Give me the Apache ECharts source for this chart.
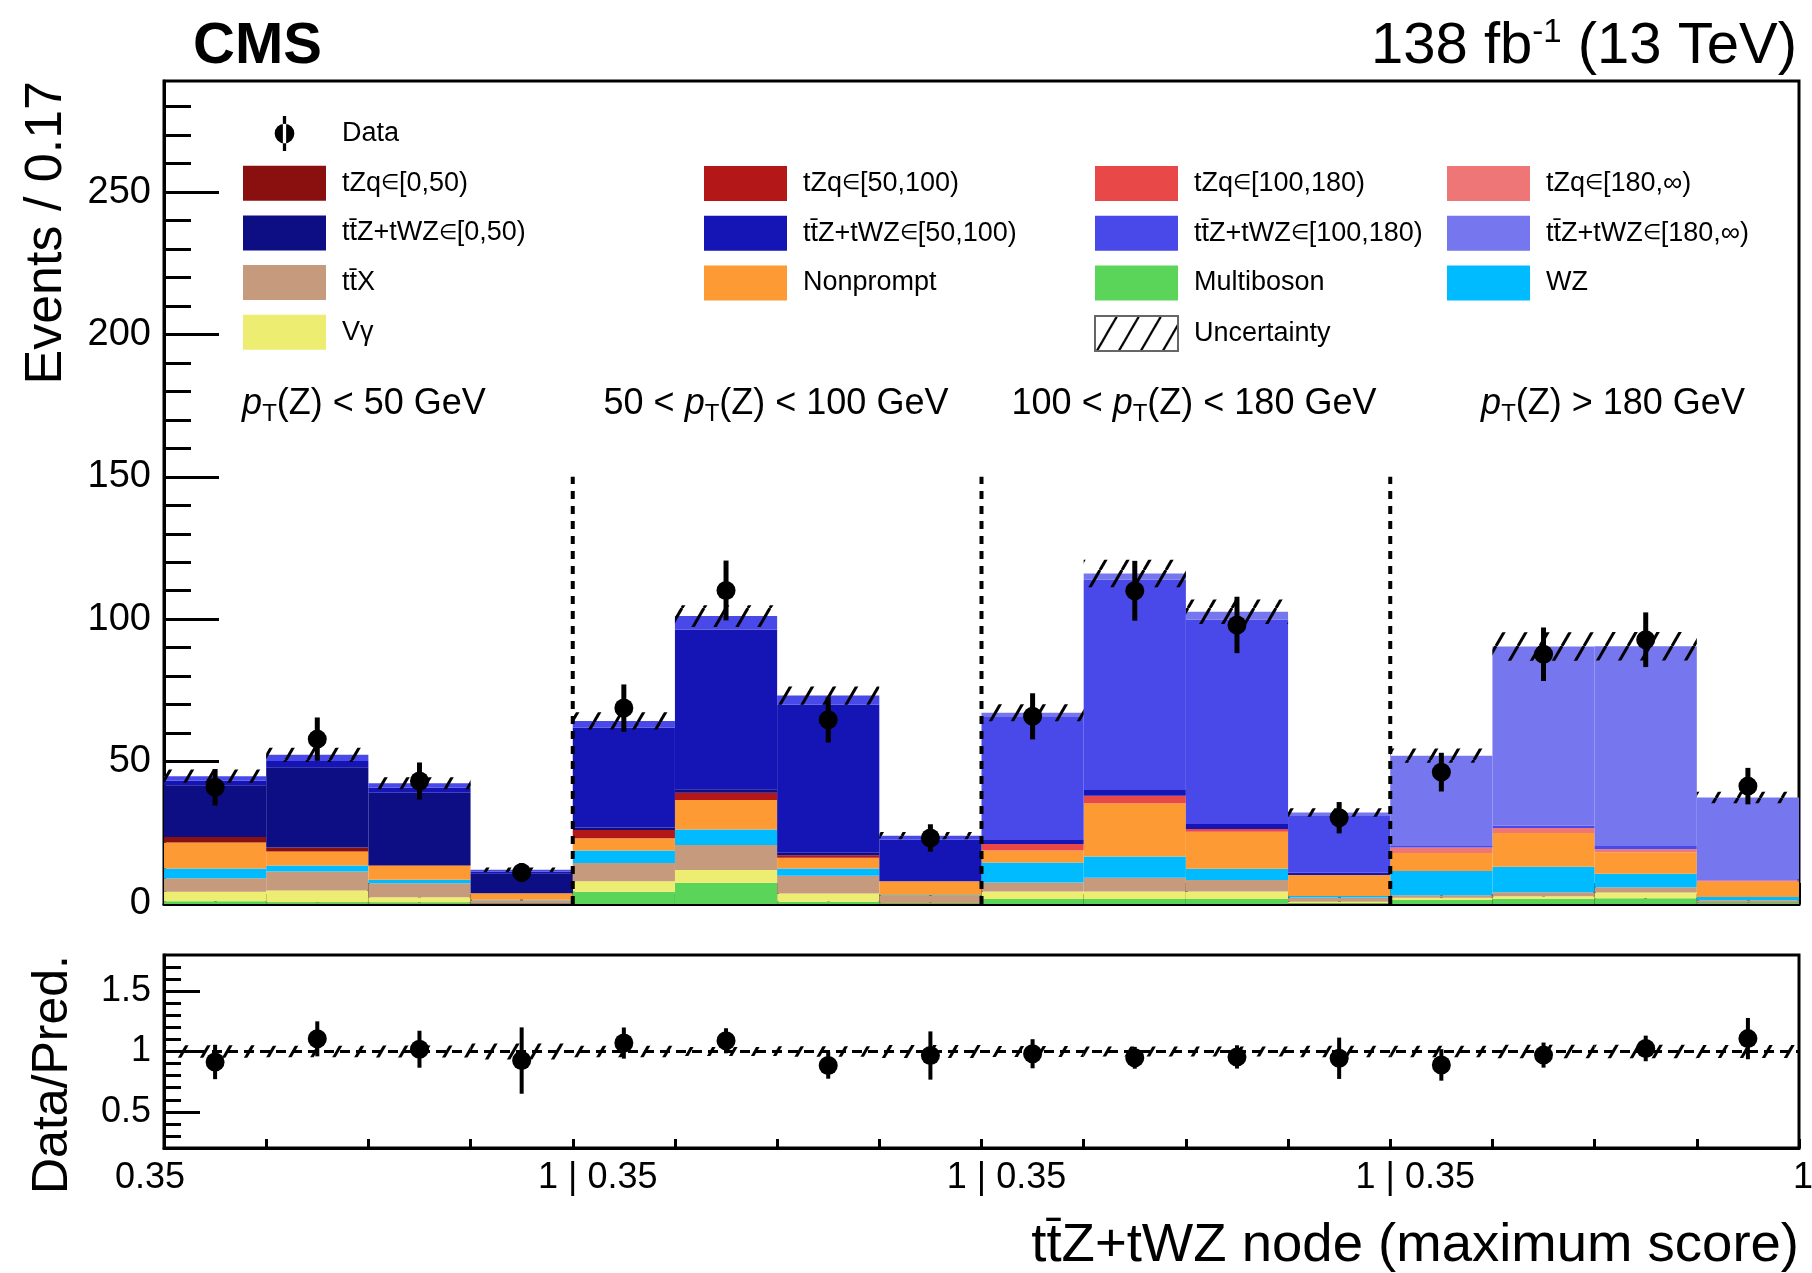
<!DOCTYPE html>
<html>
<head>
<meta charset="utf-8">
<script src="https://cdn.jsdelivr.net/npm/echarts@6/dist/echarts.min.js"></script>
<style>
  html, body { margin: 0; padding: 0; background: #fff; }
  #chart { width: 1812px; height: 1273px; }
</style>
</head>
<body>
<div id="chart"></div>
<script>
// ---- bins: 4 pT(Z) regions x 4 bins of the ttZ+tWZ node score ----
const ptBins = ['pT<50', '50-100', '100-180', 'pT>180'];
const scoreBins = ['0.35-0.51', '0.51-0.68', '0.68-0.84', '0.84-1'];
const binLabels = ptBins.flatMap(p => scoreBins.map(s => p + ' | ' + s));

const regionEdges = [4, 8, 12];        // bin index of the region separators
const regionEdgeTop = 150;             // height of the separator lines (events)
const xTickLabels = ['0.35', '1 | 0.35', '1 | 0.35', '1 | 0.35', '1'];
const yMajorTicks = [0, 50, 100, 150, 200, 250];
const yMinorTicks = [10, 20, 30, 40, 60, 70, 80, 90, 110, 120, 130, 140, 160, 170, 180, 190,
                     210, 220, 230, 240, 260, 270, 280];
const ratioMajorTicks = [0.5, 1, 1.5];
const ratioMinorTicks = [0.3, 0.4, 0.6, 0.7, 0.8, 0.9, 1.1, 1.2, 1.3, 1.4, 1.6, 1.7];

// ---- predicted yields per bin (stack order: bottom first) ----
const multiboson = [1.0, 0.6, 0.5, 0.1, 4.3, 7.5, 0.8, 0.2, 1.75, 1.75, 1.75, 0.3, 1.4, 1.75, 2.0, 0.4];
const vgamma     = [3.3, 4.1, 1.9, 0.0, 3.7, 4.4, 2.9, 0.3, 2.6, 2.6, 2.6, 0.5, 0.8, 1.0, 2.0, 0.0];
const ttx        = [4.7, 6.7, 4.9, 1.2, 6.4, 8.8, 6.2, 2.3, 3.2, 4.9, 4.1, 1.5, 0.9, 1.4, 1.9, 0.9];
const wz         = [3.5, 2.1, 1.2, 0.2, 4.4, 5.5, 2.6, 0.3, 7.0, 7.4, 3.9, 0.5, 8.5, 8.9, 4.7, 1.2];
const nonprompt  = [9.1, 4.9, 4.9, 2.3, 4.3, 10.3, 3.7, 4.9, 4.2, 18.7, 13.0, 7.4, 6.3, 11.9, 7.6, 5.3];
const tzq0       = [1.9, 1.4, 0.2, 0.0, 0, 0, 0, 0, 0, 0, 0, 0, 0, 0, 0, 0];
const tzq1       = [0, 0, 0, 0, 2.9, 2.6, 0.9, 0.0, 0, 0, 0, 0, 0, 0, 0, 0];
const tzq2       = [0, 0, 0, 0, 0, 0, 0, 0, 2.3, 2.7, 1.0, 0.0, 0, 0, 0, 0];
const tzq3       = [0, 0, 0, 0, 0, 0, 0, 0, 0, 0, 0, 0, 1.9, 1.75, 1.0, 0.5];
const ttz0       = [18.2, 28.2, 25.5, 7.0, 0.9, 1.2, 0.9, 0.0, 0, 0, 0, 0, 0, 0, 0, 0];
const ttz1       = [1.6, 2.2, 1.7, 0.6, 35.1, 56.1, 52.0, 14.6, 1.4, 2.0, 1.75, 0.8, 0, 0, 0, 0];
const ttz2       = [1.6, 2.2, 1.6, 0.6, 2.3, 4.7, 3.2, 1.4, 43.5, 73.9, 71.8, 20.2, 0.6, 0.8, 1.4, 0.4];
const ttz3       = [0, 0, 0, 0, 0, 0, 0, 0, 1.2, 2.1, 2.7, 0.9, 31.7, 62.9, 69.9, 28.7];

// total uncertainty on the prediction (events)
const predUnc    = [2.3, 2.5, 2.1, 0.8, 3.0, 3.8, 3.2, 1.3, 3.0, 4.8, 4.3, 1.5, 2.5, 5.0, 5.0, 2.0];

// ---- observed data and its statistical uncertainty ----
const dataCounts = [41.0, 57.9, 43.2, 11.1, 68.8, 110.1, 64.7, 23.2, 65.9, 110.0, 98.0, 30.3, 46.3, 87.7, 92.8, 41.4];
const dataErr    = [6.4, 7.6, 6.5, 3.3, 8.3, 10.5, 8.0, 4.8, 8.1, 10.5, 9.9, 5.5, 6.8, 9.4, 9.6, 6.4];

const regionLabels = [
  { pre: '', post: '(Z) < 50 GeV', x: 364 },
  { pre: '50 < ', post: '(Z) < 100 GeV', x: 776 },
  { pre: '100 < ', post: '(Z) < 180 GeV', x: 1194 },
  { pre: '', post: '(Z) > 180 GeV', x: 1613 }
];

const FONT = "'Liberation Sans', Arial, Helvetica, sans-serif";
const TTZ = 'tt\u0304Z+tWZ';

const components = [
  { name: 'Multiboson', values: multiboson, color: '#5ad55a' },
  { name: 'V\u03b3', values: vgamma, color: '#eded72' },
  { name: 'tt\u0304X', values: ttx, color: '#c69a7d' },
  { name: 'WZ', values: wz, color: '#00bbff' },
  { name: 'Nonprompt', values: nonprompt, color: '#fe9a34' },
  { name: 'tZq\u2208[0,50)', values: tzq0, color: '#8a1010' },
  { name: 'tZq\u2208[50,100)', values: tzq1, color: '#b41717' },
  { name: 'tZq\u2208[100,180)', values: tzq2, color: '#e84848' },
  { name: 'tZq\u2208[180,\u221e)', values: tzq3, color: '#ee7676' },
  { name: TTZ + '\u2208[0,50)', values: ttz0, color: '#0d0d84' },
  { name: TTZ + '\u2208[50,100)', values: ttz1, color: '#1515b6' },
  { name: TTZ + '\u2208[100,180)', values: ttz2, color: '#4849e8' },
  { name: TTZ + '\u2208[180,\u221e)', values: ttz3, color: '#7676ee' }
];

const total = binLabels.map((_, i) => components.reduce((s, c) => s + c.values[i], 0));

// diagonal hatching used for the uncertainty bands
function hatchCanvas(lw) {
  const w = 22, h = 38;
  const c = document.createElement('canvas');
  c.width = w; c.height = h;
  const g = c.getContext('2d');
  g.strokeStyle = '#000';
  g.lineWidth = lw;
  for (const dx of [-w, 0, w]) {
    g.beginPath(); g.moveTo(dx, h); g.lineTo(dx + w, 0); g.stroke();
  }
  return c;
}
const hatch = { image: hatchCanvas(3), repeat: 'repeat' };
const hatchLegend = { image: hatchCanvas(2.2), repeat: 'repeat' };

function bandRender(params, api) {
  const top = api.coord([api.value(0), api.value(2)]);
  const bot = api.coord([api.value(0), api.value(1)]);
  const w = api.size([1, 0])[0];
  return {
    type: 'rect',
    shape: { x: top[0] - w / 2, y: top[1], width: w, height: bot[1] - top[1] },
    style: { fill: hatch, stroke: null }
  };
}
function errRender(width) {
  return function (params, api) {
    const a = api.coord([api.value(0), api.value(1)]);
    const b = api.coord([api.value(0), api.value(2)]);
    return {
      type: 'line',
      shape: { x1: a[0], y1: a[1], x2: b[0], y2: b[1] },
      style: { stroke: '#000', lineWidth: width }
    };
  };
}

const barSeries = components.map(c => ({
  type: 'bar', name: c.name, xAxisIndex: 0, yAxisIndex: 0, stack: 'pred',
  data: c.values, barWidth: '100%', barCategoryGap: '0%',
  itemStyle: { color: c.color, borderWidth: 0, opacity: 1 },
  emphasis: { disabled: true }, silent: true, z: 2
}));

const ratio = dataCounts.map((d, i) => d / total[i]);

const series = [
  ...barSeries,
  {
    type: 'custom', name: 'Uncertainty', xAxisIndex: 0, yAxisIndex: 0,
    data: total.map((t, i) => [i, t - predUnc[i], t + predUnc[i]]),
    encode: { x: 0, y: [1, 2] }, renderItem: bandRender,
    itemStyle: { color: hatch }, silent: true, z: 3
  },
  {
    type: 'custom', name: 'separators', xAxisIndex: 1, yAxisIndex: 0,
    data: regionEdges.map(e => [e, regionEdgeTop]),
    encode: { x: 0, y: 1 },
    renderItem: function (params, api) {
      const a = api.coord([api.value(0), 0]);
      const b = api.coord([api.value(0), api.value(1)]);
      return {
        type: 'line',
        shape: { x1: a[0], y1: a[1], x2: b[0], y2: b[1] },
        style: { stroke: '#000', lineWidth: 4, lineDash: [8, 7] }
      };
    },
    silent: true, z: 4
  },
  {
    type: 'custom', name: 'dataErr', xAxisIndex: 0, yAxisIndex: 0,
    data: dataCounts.map((d, i) => [i, d - dataErr[i], d + dataErr[i]]),
    encode: { x: 0, y: [1, 2] }, renderItem: errRender(5), silent: true, z: 5
  },
  {
    type: 'scatter', name: 'Data', xAxisIndex: 0, yAxisIndex: 0,
    data: dataCounts.map((d, i) => [i, d]),
    symbol: 'circle', symbolSize: 19, itemStyle: { color: '#000', opacity: 1 },
    emphasis: { disabled: true }, silent: true, z: 6
  },
  // ratio panel
  {
    type: 'custom', name: 'ratioBand', xAxisIndex: 2, yAxisIndex: 2,
    data: total.map((t, i) => [i, 1 - predUnc[i] / t, 1 + predUnc[i] / t]),
    encode: { x: 0, y: [1, 2] }, renderItem: bandRender, silent: true, z: 3
  },
  {
    type: 'line', name: 'unity', xAxisIndex: 3, yAxisIndex: 2,
    data: [[0, 1], [16, 1]], symbol: 'none',
    lineStyle: { color: '#000', width: 3, type: [10, 6] }, silent: true, z: 4
  },
  {
    type: 'custom', name: 'ratioErr', xAxisIndex: 2, yAxisIndex: 2,
    data: dataCounts.map((d, i) => [i, (d - dataErr[i]) / total[i], (d + dataErr[i]) / total[i]]),
    encode: { x: 0, y: [1, 2] }, renderItem: errRender(4), silent: true, z: 5
  },
  {
    type: 'scatter', name: 'ratioPts', xAxisIndex: 2, yAxisIndex: 2,
    data: ratio.map((r, i) => [i, r]),
    symbol: 'circle', symbolSize: 19, itemStyle: { color: '#000', opacity: 1 },
    emphasis: { disabled: true }, silent: true, z: 6
  }
];

const tickStyle = { color: '#000', width: 3 };
const tickFont = { fontFamily: FONT, color: '#000' };

const legendBase = {
  orient: 'vertical', itemWidth: 83, itemHeight: 35, itemGap: 14.7,
  padding: 0, selectedMode: false, icon: 'rect',
  formatter: n => n.replace('\u2208', '{e|\u2208}'),
  textStyle: { fontFamily: FONT, fontSize: 27, color: '#000', padding: [0, 0, 0, 11],
               rich: { e: { fontFamily: FONT, fontSize: 21, color: '#000' } } }
};
const dataIcon = 'path://M7.5 0h3v32h-3z M0 16a9 9 0 1 0 18 0a9 9 0 1 0 -18 0z';

const option = {
  animation: false,
  backgroundColor: '#fff',
  grid: [
    { left: 164, top: 81, width: 1635, height: 823, show: true, borderColor: '#000', borderWidth: 3,
      backgroundColor: 'transparent', containLabel: false, outerBoundsMode: 'none' },
    { left: 164, top: 955, width: 1635, height: 193, show: true, borderColor: '#000', borderWidth: 3,
      backgroundColor: 'transparent', containLabel: false, outerBoundsMode: 'none' }
  ],
  xAxis: [
    { type: 'category', gridIndex: 0, data: binLabels, show: false, boundaryGap: true, position: 'bottom' },
    { type: 'value', gridIndex: 0, min: 0, max: 16, interval: 2, position: 'bottom',
      axisLine: { show: true, lineStyle: tickStyle },
      axisTick: { show: true, inside: true, length: 21, lineStyle: tickStyle },
      minorTick: { show: true, splitNumber: 4, length: 10, lineStyle: tickStyle },
      axisLabel: { show: false }, splitLine: { show: false }, minorSplitLine: { show: false } },
    { type: 'category', gridIndex: 1, data: binLabels, show: false, boundaryGap: true, position: 'bottom' },
    { type: 'value', gridIndex: 1, min: 0, max: 16, interval: 4, position: 'bottom',
      axisLine: { show: true, lineStyle: tickStyle },
      axisTick: { show: true, inside: true, length: 9, lineStyle: tickStyle },
      minorTick: { show: true, splitNumber: 4, length: 9, lineStyle: tickStyle },
      splitLine: { show: false }, minorSplitLine: { show: false },
      axisLabel: {
        show: true, margin: 12, fontSize: 36, ...tickFont,
        showMinLabel: true, showMaxLabel: true, hideOverlap: false,
        formatter: function (v) {
          const idx = Math.round(v / 4);
          const txt = xTickLabels[idx];
          if (idx === 0) return '{l|' + txt + '}';
          if (idx === xTickLabels.length - 1) return '{r|' + txt + '}';
          return '{c|' + txt + '}';
        },
        rich: {
          l: { fontSize: 36, fontFamily: FONT, color: '#000', padding: [0, 28, 0, 0] },
          r: { fontSize: 36, fontFamily: FONT, color: '#000', padding: [0, 0, 0, 8] },
          c: { fontSize: 36, fontFamily: FONT, color: '#000', padding: [0, 0, 0, 50] }
        }
      } }
  ],
  yAxis: [
    { type: 'value', gridIndex: 0, min: 0, max: 289, interval: 50, position: 'left',
      axisLine: { show: true, lineStyle: tickStyle },
      axisTick: { show: true, inside: true, length: 55, lineStyle: tickStyle, customValues: yMajorTicks },
      axisLabel: { show: true, margin: 13, fontSize: 38, ...tickFont, customValues: yMajorTicks },
      splitLine: { show: false } },
    { type: 'value', gridIndex: 0, min: 0, max: 289, interval: 10, position: 'left', offset: 0,
      axisLine: { show: false },
      axisTick: { show: true, inside: true, length: 27, lineStyle: tickStyle, customValues: yMinorTicks },
      axisLabel: { show: false }, splitLine: { show: false } },
    { type: 'value', gridIndex: 1, min: 0.2, max: 1.8, position: 'left',
      axisLine: { show: true, lineStyle: tickStyle },
      axisTick: { show: true, inside: true, length: 36, lineStyle: tickStyle, customValues: ratioMajorTicks },
      axisLabel: { show: true, margin: 13, fontSize: 36, ...tickFont, customValues: ratioMajorTicks,
                   formatter: v => String(+v.toFixed(2)) },
      splitLine: { show: false } },
    { type: 'value', gridIndex: 1, min: 0.2, max: 1.8, position: 'left', offset: 0,
      axisLine: { show: false },
      axisTick: { show: true, inside: true, length: 17, lineStyle: tickStyle, customValues: ratioMinorTicks },
      axisLabel: { show: false }, splitLine: { show: false } }
  ],
  legend: [
    { ...legendBase, left: 243, top: 116,
      data: [{ name: 'Data', icon: dataIcon }, components[5].name, components[9].name, components[2].name, components[1].name] },
    { ...legendBase, left: 704, top: 166,
      data: [components[6].name, components[10].name, components[4].name] },
    { ...legendBase, left: 1094, top: 166,
      data: [components[7].name, components[11].name, components[0].name,
             { name: 'Uncertainty', icon: 'rect', itemStyle: { color: hatchLegend, borderColor: '#666', borderWidth: 2 } }] },
    { ...legendBase, left: 1447, top: 166,
      data: [components[8].name, components[12].name, components[3].name] }
  ],
  graphic: [
    { type: 'text', x: 193, y: 47, silent: true,
      style: { text: 'CMS', fontFamily: FONT, fontWeight: 'bold', fontSize: 58, fill: '#000',
               align: 'left', verticalAlign: 'middle' } },
    { type: 'text', x: 1797, y: 47, silent: true,
      style: { text: '{a|138 fb}{s|-1}{a| (13 TeV)}', align: 'right', verticalAlign: 'middle',
               rich: { a: { fontFamily: FONT, fontSize: 58, fill: '#000', lineHeight: 62 },
                       s: { fontFamily: FONT, fontSize: 33, fill: '#000', verticalAlign: 'top', lineHeight: 34 } } } },
    ...regionLabels.map(r => ({
      type: 'text', x: r.x, y: 404, silent: true,
      style: { text: (r.pre ? '{n|' + r.pre + '}' : '') + '{i|p}{t|T}{n|' + r.post + '}',
               align: 'center', verticalAlign: 'middle',
               rich: { n: { fontFamily: FONT, fontSize: 36, fill: '#000', lineHeight: 44 },
                       i: { fontFamily: FONT, fontSize: 36, fontStyle: 'italic', fill: '#000', lineHeight: 44 },
                       t: { fontFamily: FONT, fontSize: 24, fill: '#000', lineHeight: 22, verticalAlign: 'bottom' } } }
    })),
    { type: 'text', x: 47, y: 81, rotation: Math.PI / 2, silent: true,
      style: { text: 'Events / 0.17', fontFamily: FONT, fontSize: 52, fill: '#000',
               align: 'right', verticalAlign: 'middle' } },
    { type: 'text', x: 53, y: 955, rotation: Math.PI / 2, silent: true,
      style: { text: 'Data/Pred.', fontFamily: FONT, fontSize: 50, fill: '#000',
               align: 'right', verticalAlign: 'middle' } },
    { type: 'text', x: 1799, y: 1246, silent: true,
      style: { text: TTZ + ' node (maximum score)', fontFamily: FONT, fontSize: 54.5, fill: '#000',
               align: 'right', verticalAlign: 'middle' } }
  ],
  series: series
};

const chart = echarts.init(document.getElementById('chart'), null, { renderer: 'canvas' });
chart.setOption(option);
</script>
</body>
</html>
